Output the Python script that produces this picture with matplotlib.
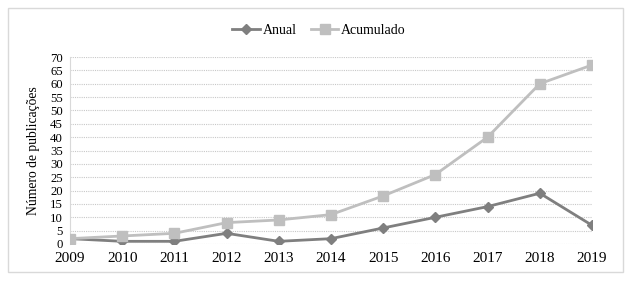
import matplotlib
matplotlib.use("Agg")
import matplotlib.pyplot as plt
from matplotlib.patches import Rectangle

years = [2009, 2010, 2011, 2012, 2013, 2014, 2015, 2016, 2017, 2018, 2019]
anual = [2, 1, 1, 4, 1, 2, 6, 10, 14, 19, 7]
acumulado = [2, 3, 4, 8, 9, 11, 18, 26, 40, 60, 67]
yticks = list(range(0, 75, 5))

plt.rcParams['font.family'] = ['Liberation Serif', 'DejaVu Serif']

fig = plt.figure(figsize=(6.31, 2.82), dpi=100)
fig.patches.append(Rectangle((8/631, 1-272/282), 615/631, 264/282, transform=fig.transFigure,
                             fill=False, edgecolor='#d9d9d9', linewidth=1))
ax = fig.add_axes([70/631, 1-244/282, 522/631, 187/282])

ax.plot(years, anual, color='#7f7f7f', linewidth=2, marker='D', markersize=5, label='Anual', zorder=3)
ax.plot(years, acumulado, color='#bfbfbf', linewidth=2, marker='s', markersize=7, label='Acumulado', zorder=3)

ax.set_xlim(2009, 2019)
ax.set_ylim(0, 70)
ax.set_yticks(yticks)
ax.set_xticks(years)
ax.set_xticklabels([str(y) for y in years])
ax.tick_params(axis='both', length=0, colors='black')
ax.tick_params(axis='x', pad=6, labelsize=11)
ax.tick_params(axis='y', pad=5, labelsize=9.2)
ax.yaxis.grid(True, color='#c8c8c8', linestyle=(0, (1, 1)), linewidth=0.8)
for s in ['top', 'right', 'bottom']:
    ax.spines[s].set_visible(False)
ax.spines['left'].set_color('#d9d9d9')
ax.spines['left'].set_linewidth(0.8)
ax.set_ylabel('Número de publicações', fontsize=9.8)
ax.yaxis.set_label_coords((40 - 70) / 522, (244 - 151) / 187)

fig.legend(loc='center', bbox_to_anchor=(319/631, 1-30/282), ncol=2, frameon=False,
           fontsize=10, handlelength=2.0, columnspacing=1.0, handletextpad=0.2)

fig.savefig('out.png', dpi=100)
